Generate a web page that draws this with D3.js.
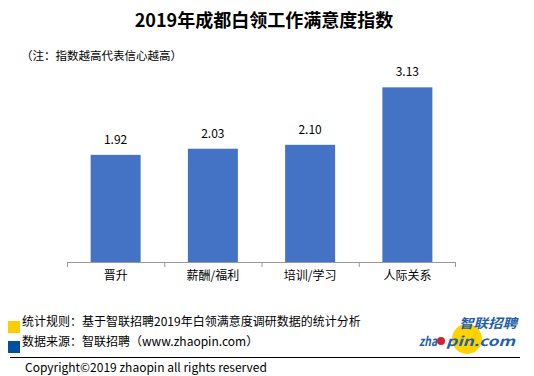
<!DOCTYPE html>
<html>
<head>
<meta charset="utf-8">
<script src="https://cdn.jsdelivr.net/npm/d3@7"></script>
<style>
  body { margin: 0; background: #fff; }
  text { font-family: "Noto Sans CJK SC", "Noto Sans", sans-serif; }
</style>
</head>
<body>
<svg id="chart" width="534" height="376"></svg>
<script>
// 数据
const categories = ['晋升', '薪酬/福利', '培训/学习', '人际关系'];
const values = [1.92, 2.03, 2.10, 3.13];
const titleText = '2019年成都白领工作满意度指数';
const noteText = '（注：指数越高代表信心越高）';
const footNotes = ['统计规则：基于智联招聘2019年白领满意度调研数据的统计分析', '数据来源：智联招聘（www.zhaopin.com）'];
const footColors = ['#FFCC00', '#0050A0'];
const copyright = 'Copyright©2019 zhaopin all rights reserved';

const svg = d3.select('#chart');

// 标题
svg.append('text')
   .attr('x', 264).attr('y', 27)
   .attr('text-anchor', 'middle')
   .attr('font-size', 18).attr('font-weight', 'bold')
   .attr('fill', '#000')
   .text(titleText);

svg.append('text')
   .attr('x', 21).attr('y', 60)
   .attr('font-size', 11.5).attr('fill', '#000')
   .text(noteText);

// 比例尺
const x = d3.scaleBand().domain(categories).range([67, 456]).paddingInner(0.486).paddingOuter(0.243);
const y = d3.scaleLinear().domain([0, 3.5]).range([262, 262 - 3.5 * 55.8]);

svg.selectAll('rect.bar').data(values).enter().append('rect')
   .attr('class', 'bar')
   .attr('x', (d, i) => x(categories[i]))
   .attr('y', d => y(d))
   .attr('width', x.bandwidth())
   .attr('height', d => y(0) - y(d))
   .attr('fill', '#4472C4');

svg.selectAll('text.val').data(values).enter().append('text')
   .attr('class', 'val')
   .attr('x', (d, i) => x(categories[i]) + x.bandwidth() / 2)
   .attr('y', d => y(d) - 11)
   .attr('text-anchor', 'middle')
   .attr('font-size', 12).attr('fill', '#000')
   .text(d => d.toFixed(2));

// x轴
const xAxis = d3.axisBottom(x).tickSize(0).tickPadding(9);
const gx = svg.append('g').attr('transform', 'translate(0,262)').call(xAxis);
gx.select('.domain').attr('stroke', '#999').attr('d', 'M67,0.5H456');
gx.selectAll('text').attr('font-size', 12).attr('fill', '#000')
  .attr('font-family', '"Noto Sans CJK SC", sans-serif');
// 分隔刻度
const step = x.step();
gx.selectAll('line.sep').data(d3.range(categories.length + 1)).enter().append('line')
  .attr('class', 'sep')
  .attr('x1', i => 67.5 + i * step - (i === categories.length ? 1 : 0))
  .attr('x2', i => 67.5 + i * step - (i === categories.length ? 1 : 0))
  .attr('y1', 0).attr('y2', 5)
  .attr('stroke', '#999');

// 脚注
footNotes.forEach((t, i) => {
  const cy = 327 + i * 20;
  svg.append('rect').attr('x', 8).attr('y', cy - 6).attr('width', 12).attr('height', 12)
     .attr('fill', footColors[i]);
  svg.append('text').attr('x', 22).attr('y', cy - 1)
     .attr('font-size', 12).attr('fill', '#000').text(t);
});

svg.append('line').attr('x1', 10).attr('x2', 520).attr('y1', 357.5).attr('y2', 357.5)
   .attr('stroke', '#000').attr('stroke-width', 1);

svg.append('text').attr('x', 25).attr('y', 372)
   .attr('font-size', 12).attr('fill', '#000')
   .attr('font-family', '"Liberation Sans", sans-serif')
   .text(copyright);

// logo
const logo = svg.append('g');
logo.append('circle').attr('cx', 467).attr('cy', 339).attr('r', 15).attr('fill', '#FFD200');
logo.append('text').attr('x', 517).attr('y', 328).attr('text-anchor', 'end')
    .attr('font-size', 13).attr('font-weight', 'bold').attr('font-style', 'italic')
    .attr('fill', '#1F5FAA').attr('textLength', 58).attr('lengthAdjust', 'spacingAndGlyphs')
    .text('智联招聘');
logo.append('text').attr('x', 419).attr('y', 346)
    .attr('font-size', 13).attr('font-weight', 'bold').attr('font-style', 'italic')
    .attr('font-family', '"Liberation Sans", sans-serif')
    .attr('fill', '#1F5FAA').attr('textLength', 18).attr('lengthAdjust', 'spacingAndGlyphs')
    .text('zha');
logo.append('text').attr('x', 446).attr('y', 346)
    .attr('font-size', 13).attr('font-weight', 'bold').attr('font-style', 'italic')
    .attr('font-family', '"Liberation Sans", sans-serif')
    .attr('fill', '#1F5FAA').attr('textLength', 69).attr('lengthAdjust', 'spacingAndGlyphs')
    .text('pin.com');
logo.append('circle').attr('cx', 441).attr('cy', 341).attr('r', 4).attr('fill', '#D4202A');
</script>
</body>
</html>
